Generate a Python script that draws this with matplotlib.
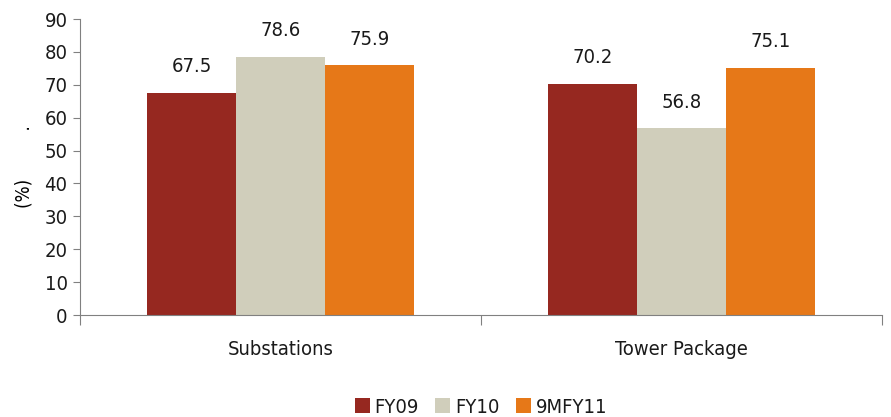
import numpy as np
import matplotlib.pyplot as plt
from matplotlib.ticker import FixedLocator

# segmenti e quote per anno fiscale
categorie = ["Substations", "Tower Package"]
fy09 = [67.5, 70.2]
fy10 = [78.6, 56.8]
fy11_9m = [75.9, 75.1]
serie = ["FY09", "FY10", "9MFY11"]
colori = ["#962820", "#D0CEBB", "#E67818"]

plt.rcParams["font.family"] = ["DejaVu Sans"]
plt.rcParams["font.stretch"] = "condensed"
plt.rcParams["text.color"] = "#1a1a1a"
plt.rcParams["ytick.labelcolor"] = "#1a1a1a"
plt.rcParams["xtick.labelcolor"] = "#1a1a1a"

fig = plt.figure(figsize=(8.91, 4.17), dpi=100)
ax = fig.add_axes([0.0898, 0.2446, 0.9001, 0.7098])

x = np.arange(len(categorie))
width = 0.222

for i, (valori, nome) in enumerate(zip([fy09, fy10, fy11_9m], serie)):
    bars = ax.bar(x + (i - 1) * width, valori, width, color=colori[i], label=nome)
    for bar, v in zip(bars, valori):
        ax.annotate(
            f"{v:.1f}",
            (bar.get_x() + bar.get_width() / 2, v),
            xytext=(0, 12),
            textcoords="offset points",
            ha="center",
            va="bottom",
            fontsize=14.5,
        )

ax.set_xlim(-0.5, len(categorie) - 0.5)
ax.set_ylim(0, 90)
ax.set_yticks(np.arange(0, 91, 10))

# tacche ai confini dei gruppi, etichette al centro
ax.xaxis.set_major_locator(FixedLocator([-0.5, 0.5, 1.5]))
ax.xaxis.set_minor_locator(FixedLocator(x))
ax.set_xticklabels([], minor=False)
ax.set_xticklabels(categorie, minor=True)
ax.tick_params(axis="x", which="major", length=7, color="#808080")
ax.tick_params(axis="x", which="minor", length=0, pad=18, labelsize=14.5)
ax.tick_params(axis="y", length=5, color="#808080", labelsize=14.5, pad=4)

for lato in ["top", "right"]:
    ax.spines[lato].set_visible(False)
for lato in ["left", "bottom"]:
    ax.spines[lato].set_color("#808080")

ax.set_ylabel("(%)" + " " * 9 + ".", fontsize=13.5, labelpad=8)

ax.legend(
    loc="lower center",
    bbox_to_anchor=(0.5, -0.405),
    ncol=3,
    frameon=False,
    fontsize=14.5,
    handlelength=0.75,
    handleheight=0.75,
    handletextpad=0.25,
    columnspacing=0.8,
)

plt.savefig("out.png", dpi=100)
